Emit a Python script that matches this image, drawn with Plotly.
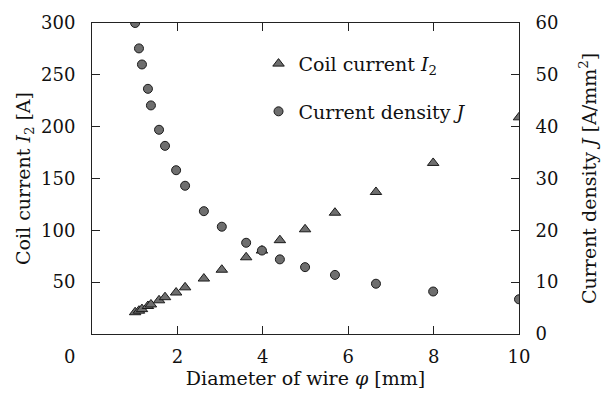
import plotly.graph_objects as go

# Data
diameter = [1.01, 1.10, 1.17, 1.31, 1.38, 1.57, 1.71, 1.97, 2.18, 2.62, 3.04,
            3.61, 3.98, 4.40, 4.99, 5.69, 6.65, 7.99, 10.0]
coil_current = [21, 22.5, 24, 27, 28.5, 32.5, 35.5, 40, 45, 53.5, 62,
                74, 80.5, 90.5, 101, 117, 137, 165, 209]
current_density = [60.0, 55.1, 52.0, 47.3, 44.1, 39.4, 36.3, 31.6, 28.6, 23.7, 20.7,
                   17.6, 16.1, 14.4, 12.9, 11.4, 9.7, 8.2, 6.7]

x_ticks = [2, 4, 6, 8, 10]
y1_ticks = [50, 100, 150, 200, 250, 300]
y2_ticks = [0, 10, 20, 30, 40, 50, 60]

FONT = "DejaVu Serif"
FS = 18      # tick labels
FT = 19      # titles and legend
FILL = "#6e6e6e"
EDGE = "#1a1a1a"

fig = go.Figure()
fig.add_trace(go.Scatter(
    x=diameter, y=coil_current, mode="markers", name="Coil current <i>I</i><sub>2</sub>",
    marker=dict(symbol="triangle-up", size=10, color=FILL, line=dict(color=EDGE, width=1)),
    yaxis="y", legendgroup="a"))
fig.add_trace(go.Scatter(
    x=diameter, y=current_density, mode="markers", name="Current density <i>J</i>",
    marker=dict(symbol="circle", size=9, color=FILL, line=dict(color=EDGE, width=1)),
    yaxis="y2", legendgroup="b"))

axis_common = dict(showgrid=False, zeroline=False, showline=True, linecolor="#222",
                   linewidth=1, ticks="inside", ticklen=8, tickcolor="#222",
                   tickfont=dict(family=FONT, size=FS, color="#111"))

fig.update_layout(
    width=613, height=398,
    margin=dict(l=92, r=94, t=15, b=62),
    paper_bgcolor="white", plot_bgcolor="white",
    font=dict(family=FONT, size=FS, color="#111"),
    showlegend=True,
    legend=dict(x=0.39, y=0.93, xanchor="left", yanchor="top",
                bgcolor="rgba(0,0,0,0)", tracegroupgap=20,
                font=dict(family=FONT, size=FT, color="#111")),
    xaxis=dict(range=[0, 10], tickvals=x_ticks, mirror="ticks",
               ticklabelstandoff=6,
               title=dict(text="Diameter of wire <i>φ</i> [mm]", standoff=6,
                          font=dict(family=FONT, size=FT)),
               **axis_common),
    yaxis=dict(range=[0, 300], tickvals=y1_ticks, ticklabelstandoff=12,
               title=dict(text="Coil current <i>I</i><sub>2</sub> [A]", standoff=5,
                          font=dict(family=FONT, size=FT)),
               **axis_common),
    yaxis2=dict(range=[0, 60], tickvals=y2_ticks, overlaying="y", side="right",
                ticklabelstandoff=12,
                title=dict(text="Current density <i>J</i> [A/mm<sup>2</sup>]", standoff=25,
                           font=dict(family=FONT, size=FT)),
                **axis_common),
    annotations=[dict(text="0", xref="paper", yref="paper", x=-0.052, y=-0.072,
                      showarrow=False, font=dict(family=FONT, size=FS, color="#111"),
                      xanchor="center", yanchor="middle")],
)

fig.write_html("out.html")
